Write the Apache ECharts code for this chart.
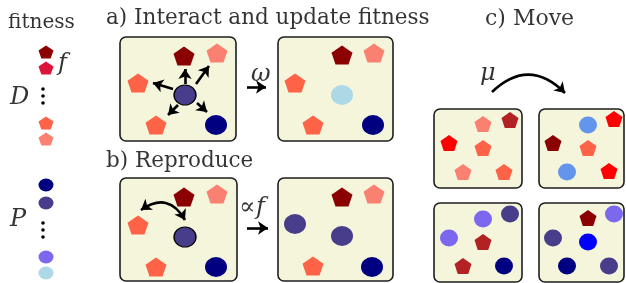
<!DOCTYPE html>
<html><head><meta charset="utf-8">
<script src="https://cdn.jsdelivr.net/npm/echarts@6/dist/echarts.min.js"></script>
<style>html,body{margin:0;padding:0;background:#fff}#c{width:626px;height:283px}</style>
</head><body><div id="c"></div>
<script>
// ---------- data (diagram coordinates in a 626 x 283 frame) ----------
const legendD = [[46,52,'darkred'],[46,68,'crimson'],[46,123,'tomato'],[46,139,'salmon']];
const legendP = [[46,185,'navy'],[46,203,'darkslateblue'],[46,257,'mediumslateblue'],[46,273,'lightblue']];
const ellipsisDots = [[43,89],[43,96],[43,103],[43,223],[43,230],[43,237]];

const boxes = [
  [120,37,236,141],[278,37,393,141],
  [120,178,237,281],[278,178,393,281],
  [434,109,522,188],[539,109,624,188],
  [434,203,522,282],[539,203,624,282]
];

// [x, y, kind, colour]  kind: p = pentagon (D), c = circle (P), focal = focal P
const panelA1 = [[184,56,'p','darkred'],[217,53,'p','salmon'],[138,83,'p','tomato'],[185,95,'focal','darkslateblue'],[156,125,'p','tomato'],[216,125,'c','navy']];
const panelA2 = [[342,55,'p','darkred'],[374,53,'p','salmon'],[295,83,'p','tomato'],[342,95,'c','lightblue'],[313,125,'p','tomato'],[373,125,'c','navy']];
const panelB1 = [[184,197,'p','darkred'],[217,194,'p','salmon'],[138,225,'p','tomato'],[185,237,'focal','darkslateblue'],[156,267,'p','tomato'],[216,267,'c','navy']];
const panelB2 = [[342,197,'p','darkred'],[374,194,'p','salmon'],[295,224,'c','darkslateblue'],[342,236,'c','darkslateblue'],[313,266,'p','tomato'],[372,267,'c','navy']];
const panelC1 = [[483,124,'p','salmon'],[510,120,'p','firebrick'],[449,143,'p','red'],[483,148,'p','tomato'],[463,172,'p','salmon'],[504,172,'p','tomato']];
const panelC2 = [[588,125,'c','cornflowerblue'],[614,119,'p','red'],[553,143,'p','darkred'],[588,148,'p','tomato'],[567,172,'c','cornflowerblue'],[609,171,'p','red']];
const panelC3 = [[483,219,'c','mediumslateblue'],[510,214,'c','darkslateblue'],[449,238,'c','mediumslateblue'],[483,242,'p','firebrick'],[463,266,'p','firebrick'],[504,266,'c','navy']];
const panelC4 = [[588,218,'p','darkred'],[614,214,'c','mediumslateblue'],[553,238,'c','darkslateblue'],[588,242,'c','blue'],[567,266,'c','navy'],[609,266,'c','darkslateblue']];

// arrows: [from, to, curveness, both-ends]
const arrows = [
  [[185,84],[185,69],0,false],
  [[196,84],[209,66],0,false],
  [[173,89],[153,83],0,false],
  [[178,105],[168,115],0,false],
  [[197,103],[207,112],0,false],
  [[247,87],[266,87],0,false],
  [[247,228],[268,228],0,false],
  [[141,210],[185,220],0.55,true],
  [[492,92],[565,93],0.49,false]
];

// text labels: [text, left, baseline, width]
const labels = [
  ['fitness',8,30,67],
  ['a) Interact and update fitness',106,26,323],
  ['b) Reproduce',106,169,147],
  ['c) Move',485,27,89]
];
// math labels: [text, left, baseline, upright]
const mathLabels = [
  ['f',58,72,false],['D',10,106,false],['P',10,228,false],
  ['\u03c9',251,83,false],['\u221d',239,216,true],['f',256,216,false],['\u03bc',480,82,false]
];

// ---------- chart ----------
const PENT = 'path://M0,-10L9.511,-3.09L5.878,8.09L-5.878,8.09L-9.511,-3.09Z';
const FAMILY = 'DejaVu Serif';

function items(list){ return list.map(d => ({value:[d[0],d[1]], itemStyle:{color:d[3], opacity:1}})); }
const abAll = [].concat(panelA1,panelA2,panelB1,panelB2);
const cAll = [].concat(panelC1,panelC2,panelC3,panelC4);
const pick = (list, k) => list.filter(d => d[2] === k);
const solid = {opacity:1};

const ctx = document.createElement('canvas').getContext('2d');
function measure(text, size){ ctx.font = size + 'px "' + FAMILY + '"'; return ctx.measureText(text).width; }
const SIZE = 24;

function textItem(text, left, baseline, size, style){
  return {value:[left, baseline - size*0.36],
    label:{show:true, position:'inside', align:'left', verticalAlign:'middle', formatter:text,
      fontFamily:FAMILY, fontSize:size, fontStyle:style, color:'#000', textBorderWidth:0, textShadowBlur:0}};
}
const textData = labels.map(l => {
  const size = Math.round(SIZE * l[3] / measure(l[0], SIZE) * 10) / 10;
  return textItem(l[0], l[1], l[2], size, 'normal');
}).concat(mathLabels.map(l => textItem(l[0], l[1], l[2], SIZE, l[3] ? 'normal' : 'italic')));

const series = [
  {type:'custom', z:1, data:boxes, renderItem(params, api){
    const p0 = api.coord([api.value(0), api.value(1)]);
    const p1 = api.coord([api.value(2), api.value(3)]);
    return {type:'rect', shape:{x:p0[0], y:p0[1], width:p1[0]-p0[0], height:p1[1]-p0[1], r:6},
      style:{fill:'#f5f5dc', stroke:'#1e1e1e', lineWidth:1.6}};
  }},
  {type:'scatter', z:3, itemStyle:solid, symbol:PENT, symbolSize:[21,19], data:items(pick(abAll,'p'))},
  {type:'scatter', z:3, itemStyle:solid, symbol:'circle', symbolSize:[22,20], data:items(pick(abAll,'c'))},
  {type:'scatter', z:3, itemStyle:{opacity:1, borderColor:'#000', borderWidth:1.3}, symbol:'circle', symbolSize:[22,20], data:items(pick(abAll,'focal'))},
  {type:'scatter', z:3, itemStyle:solid, symbol:PENT, symbolSize:[17,16], data:items(pick(cAll,'p'))},
  {type:'scatter', z:3, itemStyle:solid, symbol:'circle', symbolSize:[18,17], data:items(pick(cAll,'c'))},
  {type:'scatter', z:3, itemStyle:solid, symbol:PENT, symbolSize:[15,13], data:legendD.map(d => ({value:[d[0],d[1]], itemStyle:{color:d[2]}}))},
  {type:'scatter', z:3, itemStyle:solid, symbol:'circle', symbolSize:[15,13], data:legendP.map(d => ({value:[d[0],d[1]], itemStyle:{color:d[2]}}))},
  {type:'scatter', z:3, symbol:'circle', symbolSize:3.6, itemStyle:{color:'#000', opacity:1}, data:ellipsisDots},
  {type:'lines', coordinateSystem:'cartesian2d', z:4, symbolSize:10,
    lineStyle:{color:'#000', width:2.6, opacity:1},
    data:arrows.map(a => ({coords:[a[0],a[1]], symbol: a[3] ? ['arrow','arrow'] : ['none','arrow'], lineStyle:{curveness:a[2]}}))},
  {type:'scatter', z:5, symbol:'circle', symbolSize:0, silent:true, itemStyle:{color:'#000'}, data:textData}
];

const chart = echarts.init(document.getElementById('c'), null, {renderer:'canvas'});
chart.setOption({
  backgroundColor:'#ffffff',
  animation:false,
  textStyle:{fontFamily:FAMILY},
  grid:{left:0, right:0, top:0, bottom:0},
  xAxis:{type:'value', min:0, max:626, show:false},
  yAxis:{type:'value', min:0, max:283, inverse:true, show:false},
  series:series
});
</script></body></html>
